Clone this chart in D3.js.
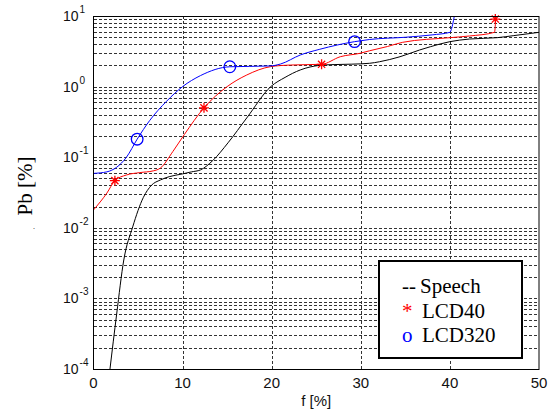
<!DOCTYPE html>
<html>
<head>
<meta charset="utf-8">
<script src="https://cdn.jsdelivr.net/npm/d3@7"></script>
<style>
body { margin: 0; background: #fff; }
svg { display: block; }
.grid line { stroke: #333; stroke-dasharray: 3,2; shape-rendering: crispEdges; }
.grid path { display: none; }
.ticklab { font-family: "Liberation Sans", Arial, sans-serif; fill: #111; }
.serif { font-family: "Liberation Serif", "Times New Roman", serif; }
</style>
</head>
<body>
<svg id="fig" width="557" height="412"></svg>
<script>
// values (f in %, Pb in %)
const speechX = [1.85, 2.6, 3.4, 4.4, 5.6, 6.5, 7.5, 8.5, 10, 11, 12, 13.4, 15.1, 17.2, 19.9, 21.5, 23.2, 25.4, 27, 29, 31, 32.1, 34.4, 36.6, 37.8, 40, 42.2, 45.3, 47.1, 50];
const speechY = [1e-4, 6e-4, 0.0035, 0.0103, 0.027, 0.040, 0.0475, 0.053, 0.058, 0.062, 0.066, 0.09, 0.16, 0.36, 1.0, 1.35, 1.72, 2.0, 2.05, 2.08, 2.14, 2.25, 2.65, 3.3, 3.67, 4.33, 4.72, 4.93, 5.26, 5.87];

const lcd40X = [0, 1.5, 2.4, 3.7, 5.2, 6.7, 7.5, 8.9, 10.2, 12.4, 15.0, 17.2, 19.9, 22.1, 25.6, 27.7, 29.9, 31.0, 33, 34.7, 40, 42.2, 45.0, 45.1, 45.15];
const lcd40Y = [0.0179, 0.031, 0.0465, 0.056, 0.0605, 0.064, 0.07, 0.12, 0.21, 0.50, 1.0, 1.46, 1.92, 2.02, 2.07, 2.65, 2.96, 3.22, 3.7, 4.24, 4.93, 5.21, 5.87, 7.5, 9.7];
const lcd40MarkX = [2.4, 12.4, 25.6, 45.1];
const lcd40MarkY = [0.0465, 0.50, 2.07, 9.06];

const lcd320X = [0, 1.5, 2.6, 3.7, 4.9, 6.3, 8.2, 10, 12, 15.3, 19.8, 21.0, 23.2, 25.4, 29.3, 31.0, 35, 38, 40.0, 40.2, 40.6];
const lcd320Y = [0.059, 0.062, 0.072, 0.1, 0.18, 0.33, 0.62, 1.0, 1.43, 1.91, 1.96, 2.09, 2.8, 3.38, 4.33, 4.65, 5.0, 5.4, 5.87, 6.7, 12];
const lcd320MarkX = [4.9, 15.3, 29.3];
const lcd320MarkY = [0.18, 1.91, 4.33];

const xTicks = [0, 10, 20, 30, 40, 50];
const yDecades = [-4, -3, -2, -1, 0, 1];
const legendNames = ["Speech", "LCD40", "LCD320"];

const L = 93.5, T = 16, R = 539, B = 369;
const x = d3.scaleLinear().domain([0, 50]).range([L, R]);
const y = d3.scaleLog().domain([1e-4, 10]).range([B, T]);

const svg = d3.select("#fig");

// dashed grid: every minor step of each decade, and the inner x ticks
const yGrid = [];
for (let k = -4; k < 1; k++) for (let m = 1; m <= 9; m++) yGrid.push(m * Math.pow(10, k));
const yg = y.copy().interpolate(d3.interpolateRound);
svg.append("g").attr("class", "grid")
  .attr("transform", `translate(${L},0)`)
  .call(d3.axisLeft(yg).tickValues(yGrid.filter(v => v > 1e-4)).tickSize(-(R - L)).tickFormat(""));
svg.append("g").attr("class", "grid")
  .attr("transform", `translate(0,${B})`)
  .call(d3.axisBottom(x.copy().interpolate(d3.interpolateRound)).tickValues([10, 20, 30, 40]).tickSize(-(B - T)).tickFormat(""));

svg.append("defs").append("clipPath").attr("id", "plotclip")
  .append("rect").attr("x", L).attr("y", T).attr("width", R - L).attr("height", B - T);

const line = d3.line().x(d => x(d[0])).y(d => y(d[1])).curve(d3.curveMonotoneX);
const plot = svg.append("g").attr("clip-path", "url(#plotclip)");

plot.append("path").datum(speechX.map((v, i) => [v, speechY[i]]))
  .attr("d", line).attr("fill", "none").attr("stroke", "#000").attr("stroke-width", 1);
plot.append("path").datum(lcd40X.map((v, i) => [v, lcd40Y[i]]))
  .attr("d", line).attr("fill", "none").attr("stroke", "#f00").attr("stroke-width", 1);
plot.append("path").datum(lcd320X.map((v, i) => [v, lcd320Y[i]]))
  .attr("d", line).attr("fill", "none").attr("stroke", "#00f").attr("stroke-width", 1);

// markers
const s = 5, s2 = 3.6;
const star = `M${-s},0H${s}M0,${-s}V${s}M${-s2},${-s2}L${s2},${s2}M${-s2},${s2}L${s2},${-s2}`;
svg.selectAll(".star").data(lcd40MarkX).join("path")
  .attr("transform", (d, i) => `translate(${x(d)},${y(lcd40MarkY[i])})`)
  .attr("d", star).attr("stroke", "#f00").attr("stroke-width", 1.3).attr("fill", "none");
svg.selectAll(".ring").data(lcd320MarkX).join("circle")
  .attr("cx", d => x(d)).attr("cy", (d, i) => y(lcd320MarkY[i])).attr("r", 5.8)
  .attr("fill", "none").attr("stroke", "#00f").attr("stroke-width", 1.3);

// axes box
svg.append("rect").attr("x", L).attr("y", T + 0.5).attr("width", R - L).attr("height", B - T)
  .attr("fill", "none").attr("stroke", "#000").attr("stroke-width", 1);

// tick labels
const yl = svg.selectAll(".ylab").data(yDecades).join("text")
  .attr("class", "ticklab").attr("x", 63).attr("y", d => y(Math.pow(10, d)) + 5)
  .attr("font-size", 14);
yl.append("tspan").text("10");
yl.append("tspan").attr("dx", 1).attr("dy", -8).attr("font-size", 10).text(d => d === 1 || d === 0 ? d : "-" + (-d));

svg.selectAll(".xlab").data(xTicks).join("text")
  .attr("class", "ticklab").attr("x", d => x(d)).attr("y", 388)
  .attr("text-anchor", "middle").attr("font-size", 15).text(d => d);

svg.append("text").attr("class", "ticklab").attr("x", (L + R) / 2).attr("y", 406)
  .attr("text-anchor", "middle").attr("font-size", 15).text("f [%]");
svg.append("text").attr("class", "serif").attr("transform", "translate(32,186) rotate(-90)")
  .attr("text-anchor", "middle").attr("font-size", 21).text("Pb [%]");
svg.append("text").attr("class", "serif").attr("x", 33).attr("y", 229).attr("font-size", 8).text(".");

// legend
const lg = svg.append("g");
lg.append("rect").attr("x", 379).attr("y", 261).attr("width", 143).attr("height", 97)
  .attr("fill", "#fff").attr("stroke", "#000").attr("stroke-width", 2);
const sym = [["--", "#000"], ["*", "#f00"], ["o", "#00f"]];
lg.selectAll(".sym").data(legendNames).join("text").attr("class", "serif")
  .attr("x", 402).attr("y", (d, i) => 293 + i * 24.5).attr("font-size", 21)
  .attr("fill", (d, i) => sym[i][1]).text((d, i) => sym[i][0]);
lg.selectAll(".name").data(legendNames).join("text").attr("class", "serif")
  .attr("x", (d, i) => i === 0 ? 420 : 422).attr("y", (d, i) => 293 + i * 24.5).attr("font-size", 21)
  .text(d => d);
</script>
</body>
</html>
